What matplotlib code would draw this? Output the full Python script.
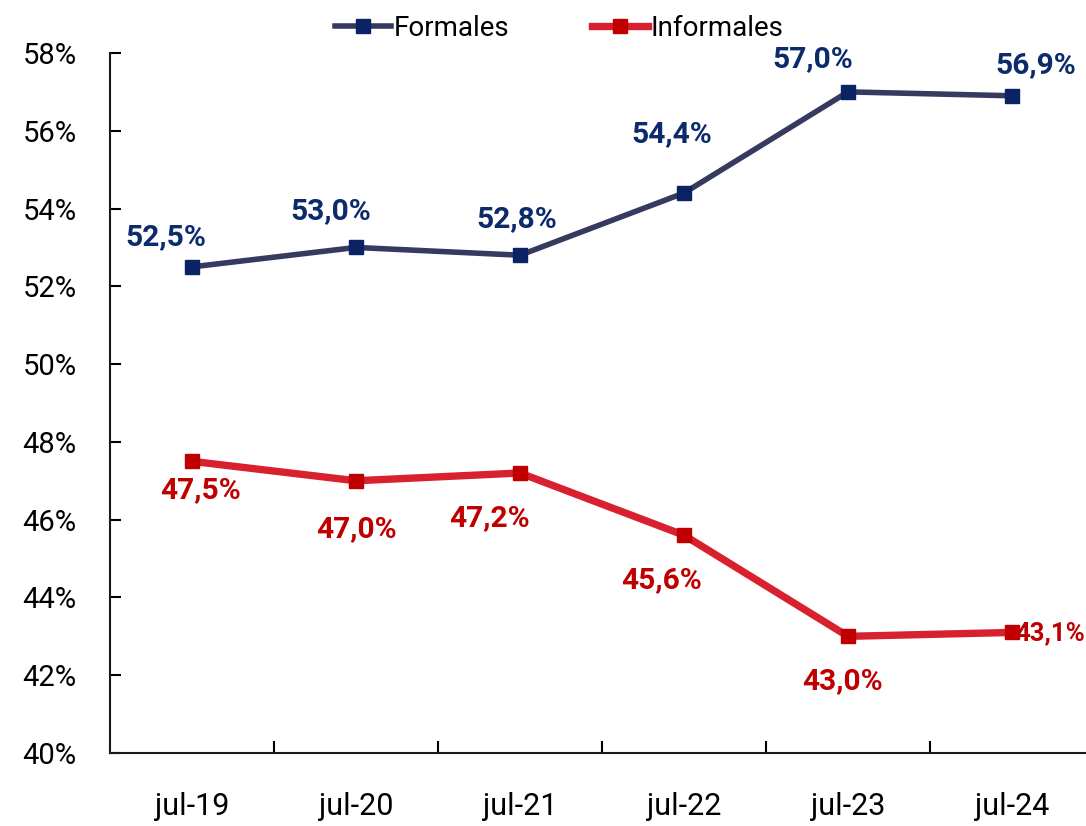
import matplotlib
matplotlib.use("Agg")
import matplotlib.pyplot as plt
from matplotlib.ticker import FixedLocator, FuncFormatter
from matplotlib.lines import Line2D

categories = ["jul-19", "jul-20", "jul-21", "jul-22", "jul-23", "jul-24"]
formales = [52.5, 53.0, 52.8, 54.4, 57.0, 56.9]
informales = [47.5, 47.0, 47.2, 45.6, 43.0, 43.1]
yticks = [40, 42, 44, 46, 48, 50, 52, 54, 56, 58]

# label offsets in pixels (layout): (dx, dy, ha, fontsize)
off_f = [(-26, 30, "center", 21.5), (-25, 36, "center", 21.5), (-3, 36, "center", 21.5),
         (-12, 59, "center", 21.5), (-35, 33, "center", 21.5), (24, 31, "center", 21.5)]
off_i = [(9, -29, "center", 21.5), (0, -48, "center", 21.5), (-31, -45, "center", 21.5),
         (-22, -45, "center", 21.5), (-6, -45, "center", 21.5), (73, -1, "right", 18.5)]

plt.rcParams['font.family'] = ['Roboto', 'DejaVu Sans']

fig = plt.figure(figsize=(10.86, 8.26), dpi=100)
ax = fig.add_axes([110/1086, 73/826, (1094-110)/1086, 700/826])

x = list(range(len(categories)))
ax.plot(x, formales, color="#363a5e", lw=4.0, marker="s", ms=9.5,
        mfc="#0b2265", mec="#0b2265", solid_joinstyle="miter", zorder=3)
ax.plot(x, informales, color="#d9202e", lw=5.3, marker="s", ms=9.5,
        mfc="#c00000", mec="#c00000", solid_joinstyle="miter", zorder=3)

for xi, v, (dx, dy, ha, fs) in zip(x, formales, off_f):
    ax.annotate(f"{v:.1f}%".replace(".", ","), (xi, v), xytext=(dx, dy),
                textcoords="offset pixels", ha=ha, va="center",
                fontsize=fs, fontweight="bold", color="#0b2b6b", annotation_clip=False)
for xi, v, (dx, dy, ha, fs) in zip(x, informales, off_i):
    ax.annotate(f"{v:.1f}%".replace(".", ","), (xi, v), xytext=(dx, dy),
                textcoords="offset pixels", ha=ha, va="center",
                fontsize=fs, fontweight="bold", color="#c00000", annotation_clip=False)

ax.set_xlim(-0.5, len(categories) - 0.5)
ax.set_ylim(40, 58)
ax.yaxis.set_major_locator(FixedLocator(yticks))
ax.yaxis.set_major_formatter(FuncFormatter(lambda v, p: f"{v:.0f}%"))
ax.set_xticks(x)
ax.set_xticklabels(categories)
ax.set_xticks([i + 0.5 for i in range(len(categories) - 1)], minor=True)

ax.tick_params(axis="x", which="major", length=0, pad=28, labelsize=22)
ax.tick_params(axis="x", which="minor", direction="in", length=9, width=1.5)
ax.tick_params(axis="y", which="major", direction="in", length=8, width=1.5,
               pad=24, labelsize=21)
for s in ["top", "right"]:
    ax.spines[s].set_visible(False)
for s in ["left", "bottom"]:
    ax.spines[s].set_linewidth(1.5)
    ax.spines[s].set_color("#1a1a1a")

h1 = Line2D([], [], color="#363a5e", lw=4.0, marker="s", ms=9.5, mfc="#0b2265", mec="#0b2265")
h2 = Line2D([], [], color="#d9202e", lw=5.3, marker="s", ms=9.5, mfc="#c00000", mec="#c00000")
fig.legend([h1, h2], ["Formales", "Informales"], loc="center", bbox_to_anchor=(0.515, 0.966),
           ncol=2, frameon=False, fontsize=20, handlelength=2.0, handletextpad=0.1,
           columnspacing=3.0)

fig.savefig("out.png", dpi=100)
